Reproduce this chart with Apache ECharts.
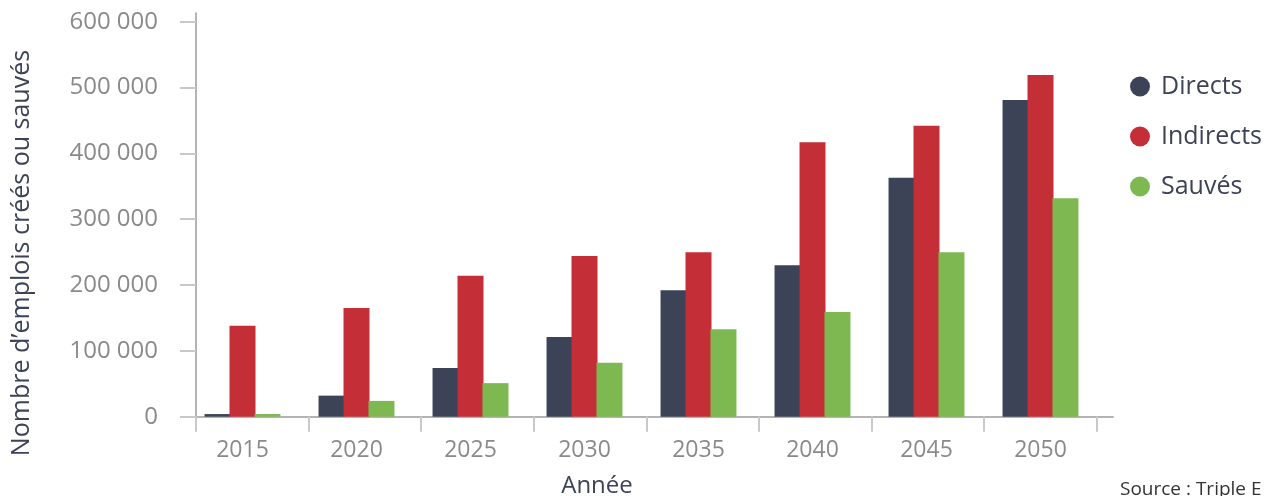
<!DOCTYPE html>
<html>
<head>
<meta charset="utf-8">
<script src="https://cdn.jsdelivr.net/npm/echarts@6/dist/echarts.min.js"></script>
<style>
html,body{margin:0;padding:0;background:#fff;}
#c{width:1265px;height:496px;}
</style>
</head>
<body>
<div id="c"></div>
<script>
const categories = ['2015','2020','2025','2030','2035','2040','2045','2050'];
const directs   = [4000, 32000, 74000, 121000, 192000, 230000, 363000, 481000];
const indirects = [138000, 165000, 214000, 244000, 250000, 417000, 442000, 519000];
const sauves    = [4000, 24000, 51000, 82000, 133000, 159000, 250000, 332000];
const yTicks = [0, 100000, 200000, 300000, 400000, 500000, 600000];
const seriesNames = ['Directs', 'Indirects', 'Sauvés'];
const colors = ['#3c4356', '#c42f37', '#7eb851'];

const FONT = '"Open Sans", "Noto Sans", sans-serif';
const fmt = v => String(v).replace(/\B(?=(\d{3})+(?!\d))/g, ' ');

const chart = echarts.init(document.getElementById('c'), null, {renderer: 'canvas'});
const TOP = 13.2, BOTTOM = 79.3, YMAX = 613000;
const tickIdx = categories.map((_, i) => i).concat([categories.length]);

chart.setOption({
  animation: false,
  backgroundColor: '#ffffff',
  color: colors,
  textStyle: {fontFamily: FONT},
  grid: [
    {left: 185.5, right: 1265 - 1097.5, top: TOP, bottom: BOTTOM},
    {left: 196, right: 1265 - 1113, top: TOP, bottom: BOTTOM}
  ],
  legend: {
    orient: 'vertical',
    left: 1125,
    top: 69,
    itemWidth: 20,
    itemHeight: 20,
    itemGap: 25,
    icon: 'circle',
    data: seriesNames,
    textStyle: {fontFamily: FONT, fontSize: 25, color: '#3d4356', padding: [0, 0, 0, 6]}
  },
  xAxis: [
    {
      type: 'category', gridIndex: 0, data: categories,
      axisLine: {show: false}, axisTick: {show: false},
      axisLabel: {fontFamily: FONT, fontSize: 23, color: '#8a8a8a', margin: 22}
    },
    {
      type: 'value', gridIndex: 1, min: 0, max: 8.144,
      axisLine: {show: true, lineStyle: {color: '#b4b4b4', width: 2}},
      axisTick: {show: true, length: 15, customValues: tickIdx, lineStyle: {color: '#c9c9c9', width: 2}},
      axisLabel: {show: false},
      splitLine: {show: false}
    }
  ],
  yAxis: [
    {
      type: 'value', gridIndex: 0, min: 0, max: YMAX,
      show: false, splitLine: {show: false}
    },
    {
      type: 'value', gridIndex: 1, min: 0, max: YMAX,
      axisLine: {show: true, lineStyle: {color: '#b4b4b4', width: 2}},
      axisTick: {show: true, length: 16, customValues: yTicks, lineStyle: {color: '#c9c9c9', width: 2}},
      axisLabel: {customValues: yTicks, fontFamily: FONT, fontSize: 24, color: '#8a8a8a', margin: 38, formatter: v => fmt(v)},
      splitLine: {show: false}
    }
  ],
  series: [
    {name: seriesNames[0], type: 'bar', xAxisIndex: 0, yAxisIndex: 0, data: directs, barWidth: 26, barGap: '-4%', itemStyle: {color: colors[0]}},
    {name: seriesNames[1], type: 'bar', xAxisIndex: 0, yAxisIndex: 0, data: indirects, barWidth: 26, barGap: '-4%', itemStyle: {color: colors[1]}},
    {name: seriesNames[2], type: 'bar', xAxisIndex: 0, yAxisIndex: 0, data: sauves, barWidth: 26, barGap: '-4%', itemStyle: {color: colors[2]}}
  ],
  graphic: [
    {
      type: 'text', x: 22, y: 253, rotation: Math.PI / 2,
      style: {text: 'Nombre d’emplois créés ou sauvés', fontFamily: FONT, fontSize: 25, fill: '#3d4356', align: 'center', verticalAlign: 'middle'}
    },
    {
      type: 'text', x: 597, y: 486,
      style: {text: 'Année', fontFamily: FONT, fontSize: 24, fill: '#3d4356', align: 'center', verticalAlign: 'middle'}
    },
    {
      type: 'text', x: 1120, y: 480,
      style: {text: 'Source : Triple E', fontFamily: FONT, fontSize: 19, fill: '#333333', align: 'left', verticalAlign: 'top'}
    }
  ]
});
</script>
</body>
</html>
